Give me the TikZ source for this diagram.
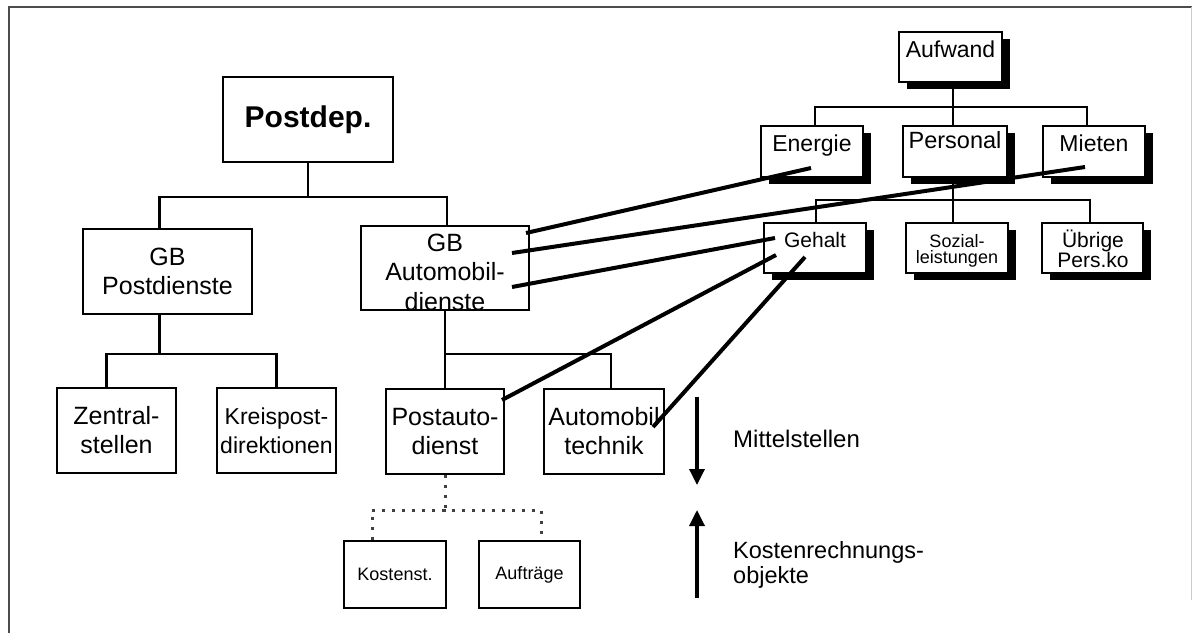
\documentclass[tikz,border=0pt]{standalone}
\usepackage{fontspec}
\setmainfont{Liberation Sans}
\usetikzlibrary{arrows.meta,shadows,backgrounds}

\begin{document}
\begin{tikzpicture}[x=1pt,y=-1pt,
  obox/.style={draw, line width=2.2pt, fill=white, inner sep=0pt, align=center},
  sbox/.style={draw, line width=2.4pt, fill=white, inner sep=0pt,
    minimum height=50pt,
    drop shadow={shadow xshift=8pt, shadow yshift=-7pt, fill=black, opacity=1}},
  txt/.style={inner sep=0pt, align=center},
  tree/.style={line width=2.3pt},
  link/.style={line width=4pt},
  dots/.style={line width=3pt, black!75, dash pattern=on 3pt off 7pt},
  bigarrow/.style={line width=3.4pt, -{Triangle[width=15pt,length=16pt]}},
  fL/.style={font=\fontsize{25}{29}\selectfont},
  fM/.style={font=\fontsize{23}{29}\selectfont},
  fS/.style={font=\fontsize{18}{22}\selectfont},
]
% canvas and frame
\begin{scope}[on background layer]
\fill[white] (0,0) rectangle (1195,633);
\end{scope}
\useasboundingbox (0,0) rectangle (1195,633);
\draw[black!70, line width=1.8pt] (9,633) -- (9,7) -- (1192,7);
\draw[black!20, line width=1pt] (1191,7) -- (1191,600);

% left organisation tree
\node[obox, minimum width=170pt, minimum height=85pt,
      font=\fontsize{30}{34}\selectfont\bfseries] (post) at (308,119.5) {Postdep.};
\node[obox, fL, minimum width=169pt, minimum height=85pt] (gbp) at (167.5,271.5) {GB\\Postdienste};
\node[obox, minimum width=168pt, minimum height=84pt] (gba) at (445,268) {};
\node[txt, font=\fontsize{25}{29.5}\selectfont] (t-gba) at (445,272) {GB\\Automobil-\\dienste};
\node[obox, fL, minimum width=119pt, minimum height=85pt] (zen) at (116.5,430.5) {Zentral-\\stellen};
\node[obox, fM, minimum width=119pt, minimum height=85pt] (kreis) at (276.5,430.5) {Kreispost-\\direktionen};
\node[obox, fL, minimum width=118pt, minimum height=85pt] (pad) at (445,431.5) {Postauto-\\dienst};
\node[obox, fL, minimum width=120pt, minimum height=85pt] (atech) at (604,431.5) {Automobil\\technik};
\node[obox, fS, minimum width=102pt, minimum height=67pt] (kst) at (395,574.5) {Kostenst.};
\node[obox, fS, minimum width=101pt, minimum height=67pt] (auf) at (529.5,574.5) {Aufträge};

\draw[tree] (post.south) -- ++(0,34) coordinate (j1);
\draw[tree] ([shift={(-8,0)}]gbp.north) |- (j1) -| ([shift={(2,0)}]gba.north);
\draw[tree] ([shift={(-8,0)}]gbp.south) -- ++(0,39) coordinate (j2);
\draw[tree] ([shift={(-10,0)}]zen.north) |- (j2) -| (kreis.north);
\draw[tree] (gba.south) -- ++(0,43) coordinate (j3);
\draw[tree] (pad.north) -- (j3) -| ([shift={(7,0)}]atech.north);
\draw[dots] (pad.south) -- ++(0,35) coordinate (j4);
\draw[dots] ([shift={(-23,0)}]kst.north) |- (j4) -| ([shift={(11.5,0)}]auf.north);

% expense hierarchy
\node[sbox, minimum width=103pt] (aufwand) at (950.5,57) {};
\node[sbox, minimum width=102pt, minimum height=51pt] (energie) at (812,151.5) {};
\node[sbox, minimum width=104pt, minimum height=51pt] (personal) at (955,151.5) {};
\node[sbox, minimum width=102pt, minimum height=51pt] (mieten) at (1094,151.5) {};
\node[sbox, minimum width=102pt] (gehalt) at (815,248) {};
\node[sbox, minimum width=102pt] (sozial) at (957,248) {};
\node[sbox, minimum width=101pt] (uebrig) at (1092.5,248) {};

\node[txt, fM, anchor=base] (t-aufwand) at (950.5,57) {Aufwand};
\node[txt, fM, anchor=base] (t-energie) at (812,151) {Energie};
\node[txt, font=\fontsize{23.5}{29}\selectfont, anchor=base] (t-personal) at (955,148) {Personal};
\node[txt, fM, anchor=base] (t-mieten) at (1094,151) {Mieten};
\node[txt, font=\fontsize{21}{24}\selectfont, anchor=base] (t-gehalt) at (815,247) {Gehalt};
\node[txt, font=\fontsize{18}{16}\selectfont, anchor=north] (t-sozial) at (957,234.5) {Sozial-\\leistungen};
\node[txt, font=\fontsize{21}{20}\selectfont, anchor=north] (t-uebrig) at (1093,230) {Übrige\\Pers.ko};

\begin{scope}[on background layer]
\draw[tree] ([shift={(2.5,0)}]aufwand.south) -- ++(0,24) coordinate (k1);
\draw[tree] ([shift={(3,0)}]energie.north) |- (k1) -| ([shift={(-7,0)}]mieten.north);
\draw[tree] ([shift={(-2,0)}]personal.north) -- (k1);
\draw[tree] ([shift={(-2,0)}]personal.south) -- ++(0,22) coordinate (k2);
\draw[tree] ([shift={(1,0)}]gehalt.north) |- (k2) -| ([shift={(-2.5,0)}]uebrig.north);
\draw[tree] ([shift={(-4,0)}]sozial.north) -- (k2);
\end{scope}

% cost assignments
\draw[link] ([shift={(-1,16.5)}]energie.center) -- ([shift={(81,-35)}]gba.center);
\draw[link] ([shift={(-9,15.5)}]mieten.center) -- ([shift={(67,-15)}]gba.center);
\draw[link] ([shift={(-40,-10)}]gehalt.center) -- ([shift={(67,19)}]gba.center);
\draw[link] ([shift={(-39,7)}]gehalt.center) -- ([shift={(57,-31.5)}]pad.center);
\draw[link] ([shift={(-10,9)}]gehalt.center) -- ([shift={(49,-4.5)}]atech.center);

% direction legend
\coordinate (d1) at (697,397);
\coordinate (d2) at (697,485);
\coordinate (u1) at (697,598);
\coordinate (u2) at (697,510);
\draw[bigarrow] (d1) -- (d2);
\draw[bigarrow] (u1) -- (u2);
\node[txt, font=\fontsize{24}{25}\selectfont, anchor=base west] (mst) at (733,447) {Mittelstellen};
\node[txt, font=\fontsize{23.5}{25}\selectfont, align=left, anchor=north west] (kro) at (733,541) {Kostenrechnungs-\\objekte};
\end{tikzpicture}
\end{document}
